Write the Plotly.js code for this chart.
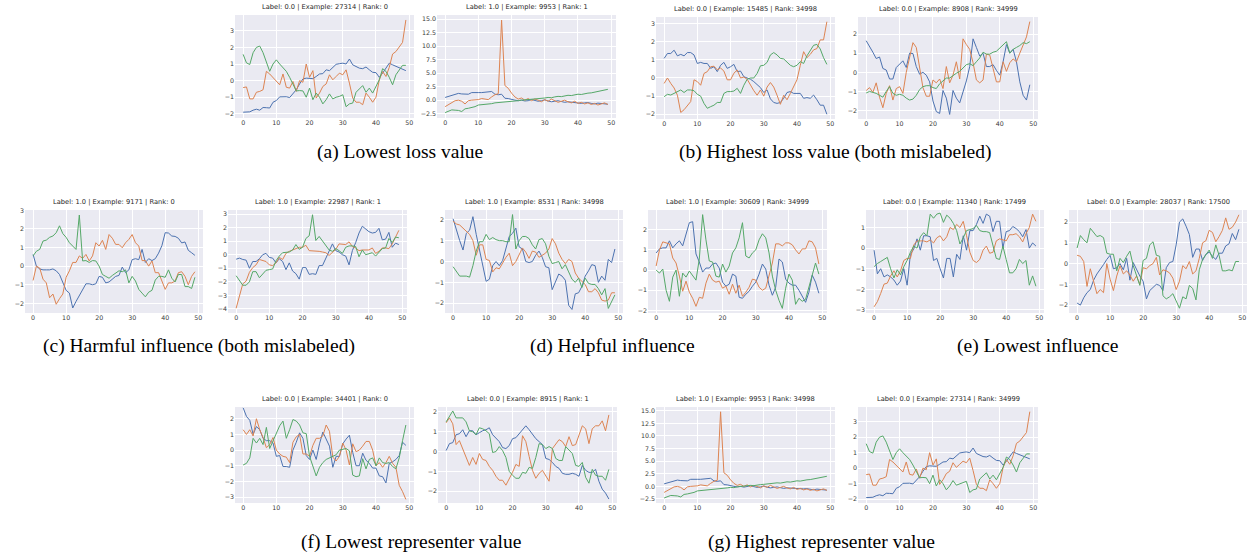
<!DOCTYPE html>
<html><head><meta charset="utf-8">
<script src="https://cdn.plot.ly/plotly-3.0.1.min.js"></script>
<style>html,body{margin:0;padding:0;background:#fff}#chart{width:1248px;height:560px}</style>
</head><body><div id="chart"></div>
<script>
// ---------- data (time steps 0..49) ----------
const steps = [0,1,2,3,4,5,6,7,8,9,10,11,12,13,14,15,16,17,18,19,20,21,22,23,24,25,26,27,28,29,30,31,32,33,34,35,36,37,38,39,40,41,42,43,44,45,46,47,48,49];
const xTicks = [0,10,20,30,40,50];

// Example 27314 (label 0.0)
const ex27314Blue = [-1.9,-1.9,-1.88,-1.78,-1.72,-1.78,-1.62,-1.63,-1.65,-1.3,-1.2,-0.98,-0.97,-0.97,-1.02,-0.8,-0.55,-0.2,0.1,0.15,0.15,0.12,0.25,0.4,0.42,0.65,0.6,0.8,0.98,1.02,1.05,1.0,1.3,0.95,0.85,0.75,0.72,0.82,0.65,0.5,0.48,0.2,0.45,0.75,1.05,0.95,0.85,0.75,0.65,0.6];
const ex27314Orange = [-0.42,-0.38,-1.1,-1.1,-0.7,-0.65,-0.55,0.56,0.4,0.2,0.0,-0.25,0.4,-0.4,-0.45,-0.05,-0.65,0.0,-0.1,1.0,0.2,0.6,-1.05,-0.75,-0.35,-0.2,0.35,0.05,0.25,0.45,0.35,0.65,-0.15,-1.05,-1.3,-1.3,-1.45,-0.75,-1.0,-1.3,-1.0,0.05,0.55,0.25,0.8,1.6,1.75,2.0,2.3,3.65];
const ex27314Green = [1.58,1.07,0.97,1.68,2.0,2.08,1.68,1.07,0.56,1.0,1.25,1.0,0.75,0.56,0.2,-0.25,-0.62,-0.6,-0.62,-1.0,-0.45,-1.15,-0.75,-1.0,-1.4,-1.15,-0.8,-1.1,-1.0,-0.95,-0.85,-1.57,-1.4,-1.35,-0.7,-0.5,-0.3,-0.7,-0.45,-0.75,-0.35,0.05,0.72,0.56,0.2,-0.25,0.35,0.66,0.92,0.92];

// Example 9953 (label 1.0)
const ex9953Blue = [0.5,0.7,0.85,1.05,1.25,1.15,1.1,1.1,1.4,1.35,1.4,1.4,1.45,1.5,1.6,1.1,1.0,1.1,0.35,0.3,0.1,0.0,-0.1,0.0,-0.15,-0.1,0.1,-0.05,-0.2,-0.1,0.05,-0.15,-0.3,-0.2,-0.1,-0.25,-0.4,-0.3,-0.35,-0.5,-0.45,-0.6,-0.5,-0.45,-0.6,-0.7,-0.55,-0.65,-0.7,-0.75];
const ex9953Orange = [-1.2,-0.85,-0.5,-0.1,0.0,-0.2,-0.7,-0.1,0.0,0.0,0.1,0.3,0.15,0.1,0.6,1.0,1.2,14.8,2.7,2.2,1.3,0.6,0.2,0.4,0.0,0.3,-0.1,0.2,0.0,-0.3,0.1,-0.2,0.2,-0.1,-0.4,-0.2,0.0,-0.3,-0.5,-0.2,-0.6,-0.4,-0.7,-0.5,-0.8,-0.6,-0.9,-0.7,-0.5,-0.8];
const ex9953Green = [-2.3,-2.1,-1.8,-1.85,-1.9,-2.1,-1.6,-1.5,-1.4,-1.2,-0.9,-0.85,-0.8,-0.7,-0.65,-0.5,-0.45,-0.4,-0.35,-0.3,-0.2,-0.25,-0.1,0.0,0.05,0.1,0.2,0.15,0.3,0.35,0.4,0.5,0.45,0.6,0.7,0.65,0.8,0.9,0.85,1.0,1.1,1.05,1.2,1.3,1.35,1.5,1.55,1.7,1.85,2.0];

// Example 15485 (label 0.0)
const ex15485Blue = [1.08,1.35,1.35,1.53,1.22,1.3,1.22,1.4,1.4,1.27,0.8,0.86,0.8,0.8,0.53,0.62,0.35,0.7,0.86,0.53,0.62,0.75,0.35,0.38,0.07,0.0,-0.07,-0.2,-0.35,-0.53,-0.8,-0.66,-1.15,-1.35,-1.4,-1.35,-1.12,-0.8,-0.75,-0.85,-0.85,-0.85,-1.12,-1.08,-1.12,-0.94,-1.2,-1.5,-1.5,-2.0];
const ex15485Orange = [-0.3,0.0,-0.3,-0.55,-0.95,-1.9,-1.75,-1.55,-1.3,-0.1,-0.2,-0.4,0.25,0.35,0.62,0.65,0.45,0.55,0.38,-0.1,-0.1,0.26,0.44,0.0,0.05,-0.07,-0.4,-0.7,-0.95,-0.66,-1.0,-0.5,-0.25,-0.5,-0.95,-1.45,-0.95,-1.2,-0.85,-0.5,-0.1,0.7,1.45,1.12,1.3,1.55,1.62,2.1,2.1,3.1];
const ex15485Green = [-1.03,-0.9,-0.94,-0.85,-0.75,-0.66,-0.8,-0.66,-0.66,-0.7,-0.9,-1.0,-1.4,-1.67,-1.58,-1.5,-1.35,-1.35,-0.85,-0.75,-0.75,-0.72,-0.57,-0.85,-0.4,-0.07,0.0,0.0,0.25,0.67,0.7,0.86,1.27,1.4,1.27,1.08,1.05,0.86,0.7,0.62,0.7,0.9,0.8,1.22,1.48,1.8,1.85,1.6,1.12,0.75];

// Example 8908 (label 0.0)
const ex8908Blue = [1.65,1.38,1.05,0.72,0.8,0.2,0.12,-0.35,-0.35,0.25,0.45,0.6,0.25,1.0,0.98,0.3,-0.1,0.0,-0.15,-0.5,-1.5,-2.05,-2.15,-0.95,-1.35,-2.2,-0.95,-1.35,-1.6,-1.0,-0.45,0.3,1.75,1.3,0.85,1.0,0.3,0.3,0.4,0.1,-0.15,0.55,1.45,1.0,1.2,0.55,-0.5,-1.2,-1.45,-0.65];
const ex8908Orange = [-0.95,-0.8,-1.05,-0.55,-1.3,-1.85,-1.1,-0.7,-1.45,-0.85,-0.75,-1.1,0.0,0.8,1.55,1.3,0.3,-0.8,-1.25,-1.25,-0.4,-0.55,-0.35,-0.85,0.3,-0.55,-0.15,0.55,-0.35,1.75,1.45,1.2,0.5,-0.4,-0.55,-0.4,0.95,0.9,0.2,-0.5,-0.5,0.55,0.05,0.5,0.7,0.55,1.0,1.4,1.85,2.65];
const ex8908Green = [-1.08,-1.0,-1.05,-1.1,-1.2,-1.3,-1.0,-0.75,-1.1,-1.2,-1.15,-1.2,-1.35,-1.45,-1.4,-1.2,-0.9,-0.75,-0.7,-0.7,-0.8,-0.85,-0.6,-0.45,-0.3,-0.3,-0.15,-0.05,0.05,0.2,0.4,0.45,0.35,0.55,0.75,1.05,0.95,0.95,1.05,1.1,1.25,1.45,1.6,1.0,1.2,1.3,1.4,1.55,1.5,1.6];

// Example 9171 (label 1.0)
const ex9171Blue = [0.63,0.0,-0.15,-0.2,-0.2,-0.2,-0.15,-0.25,-0.45,-0.85,-1.3,-1.45,-2.25,-1.9,-1.6,-1.3,-0.95,-0.95,-1.0,-0.95,-0.55,-0.6,-0.9,-0.85,-0.7,-0.55,-0.5,-0.05,-0.35,-0.2,0.35,0.4,0.35,0.9,0.2,0.4,0.3,0.4,0.7,1.1,1.8,1.78,1.62,1.6,1.5,1.25,1.3,0.85,0.72,0.58];
const ex9171Orange = [-0.77,0.0,-0.1,-0.7,-0.9,-1.7,-1.5,-2.05,-1.75,-1.5,-0.6,-0.25,0.2,0.2,0.55,0.42,0.63,0.28,0.55,1.26,1.08,1.39,0.9,1.7,1.5,1.17,1.17,0.99,1.26,1.44,1.7,1.26,1.08,0.3,0.3,0.0,0.28,-0.35,-0.35,-0.8,-1.25,-0.9,-0.9,-0.8,-0.35,-0.3,-0.55,-1.0,-0.55,-0.3];
const ex9171Green = [0.55,0.8,0.9,1.35,1.4,1.55,1.62,1.8,2.17,1.75,1.55,1.26,1.08,0.9,2.75,0.28,0.3,0.2,0.3,0.28,0.0,-0.45,-0.55,-0.65,-0.5,-0.35,-0.25,-0.3,-0.2,-0.9,-0.55,-0.8,-1.25,-1.45,-1.65,-1.4,-1.3,-0.75,-0.55,-0.55,-0.6,-0.2,-0.65,-0.85,-0.45,-0.45,-1.1,-1.1,-1.2,-0.6];

// Example 22987 (label 1.0)
const ex22987Blue = [-0.33,-0.25,-0.35,-0.4,-1.0,-0.5,-0.5,-0.3,0.0,0.1,-0.2,-0.25,-0.6,-0.3,-0.5,-1.1,-0.6,-1.2,-1.4,-1.8,-0.95,-0.95,-1.45,-1.4,-1.45,-0.8,-0.8,-0.3,0.3,0.8,0.3,0.2,0.0,-0.1,-0.75,0.3,0.9,1.6,2.1,1.9,1.7,1.6,1.65,1.95,1.1,1.15,1.65,0.55,0.85,0.75];
const ex22987Orange = [-3.95,-3.0,-2.15,-1.95,-1.3,-0.95,-0.75,-0.35,-0.45,-0.5,-0.75,-0.8,-0.6,-0.2,-0.35,0.1,0.25,0.35,0.5,0.55,0.55,0.7,0.3,0.3,0.25,0.25,0.2,0.15,-0.05,0.2,0.4,0.8,0.75,0.75,0.95,0.6,0.5,0.3,0.35,0.35,0.35,0.5,0.1,0.25,0.5,0.5,0.45,0.8,1.3,1.8];
const ex22987Green = [-1.55,-1.9,-2.25,-2.25,-2.0,-1.25,-1.25,-1.7,-1.45,-1.15,-1.1,-1.05,-0.45,-0.1,0.15,0.15,0.2,0.35,0.75,0.4,0.55,1.2,1.4,2.95,1.05,1.35,1.0,0.65,0.35,0.25,0.45,0.3,0.1,0.55,0.65,0.65,0.6,-0.15,0.35,0.0,0.05,0.15,-0.1,0.15,0.45,0.5,1.2,0.9,1.3,1.25];

// Example 8531 (label 1.0)
const ex8531Blue = [2.05,1.5,1.0,0.55,1.35,1.5,2.15,1.3,0.5,-0.2,-0.95,-0.85,-0.2,0.0,-0.2,0.05,0.7,1.2,1.35,1.6,0.7,0.6,0.0,-0.05,0.0,0.3,0.5,0.2,-0.25,-0.3,-1.35,-0.95,-0.6,-0.7,-0.9,-2.1,-2.3,-1.55,-1.5,-1.2,-0.7,-0.45,-0.15,-0.2,-1.0,-0.7,-0.9,0.1,-0.05,0.6];
const ex8531Orange = [1.93,1.8,1.75,1.6,1.45,1.3,1.0,0.3,0.8,0.8,0.1,0.05,-0.5,-0.3,-0.35,-0.05,0.2,0.4,-0.2,0.0,0.3,0.65,0.45,0.15,0.5,0.45,0.2,0.3,0.4,0.6,1.1,0.85,0.4,0.1,-0.1,0.1,0.0,-0.55,-0.8,-0.95,-1.1,-1.45,-1.45,-1.3,-1.5,-1.85,-1.9,-1.85,-1.5,-1.5];
const ex8531Green = [-0.25,-0.5,-0.7,-0.7,-0.7,-0.75,-0.2,0.5,0.95,0.95,1.3,1.05,1.15,1.05,1.0,1.0,0.95,0.95,2.25,0.6,1.0,1.2,1.2,1.1,0.8,0.6,1.05,1.1,0.85,0.25,-0.1,-0.05,0.0,-0.35,-0.15,-0.5,-0.85,-1.0,-0.8,-1.25,-0.8,-1.05,-1.1,-1.1,-1.3,-1.6,-1.3,-2.25,-1.95,-1.6];

// Example 30609 (label 1.0)
const ex30609Blue = [0.85,1.05,1.1,1.1,1.45,1.1,1.3,1.45,1.2,1.85,2.35,2.4,0.8,0.4,-0.1,0.1,0.1,0.3,0.35,0.1,-0.6,-0.8,-0.7,-0.2,-0.3,-1.35,-1.4,-1.2,-1.05,-0.8,-0.6,-0.2,0.3,0.05,-0.75,-1.25,-0.85,0.55,0.4,-0.45,-0.65,-0.75,-0.75,-1.0,-1.3,-1.6,-1.1,-0.25,-0.6,-1.15];
const ex30609Orange = [0.2,1.0,1.4,1.35,1.3,0.6,0.35,-0.3,-1.05,-0.55,-1.1,-1.4,-1.8,-1.35,-1.4,-0.65,-0.2,-0.5,-0.6,-0.55,-0.9,-0.8,-1.2,-0.7,-1.15,-0.75,-1.3,-1.1,-0.85,-0.45,-0.5,-0.85,-1.0,-0.9,-0.3,0.35,1.3,1.3,1.2,1.35,1.35,1.25,1.0,0.8,1.05,1.05,1.45,1.4,1.1,0.3];
const ex30609Green = [0.0,-0.15,0.05,-1.0,-1.55,-0.35,0.0,-1.3,-0.15,-0.35,-0.05,-0.3,-0.5,0.55,2.75,1.5,0.45,0.4,-0.3,-0.35,0.3,-0.1,0.2,0.85,1.1,1.6,2.35,0.7,0.6,0.85,1.0,1.5,1.8,1.6,0.85,-0.3,-1.0,-1.5,-1.9,-0.9,-0.2,-0.5,-1.7,-1.4,-1.55,-1.45,-0.85,-0.35,0.35,-0.2];

// Example 11340 (label 0.0)
const ex11340Blue = [-0.1,-1.25,-1.0,-1.4,-1.3,-1.4,-1.55,-1.8,-1.6,-1.0,-1.8,-0.3,-0.05,0.45,-0.1,0.6,0.6,0.55,-0.6,-0.5,-1.0,-1.45,-0.5,-0.5,-1.4,-0.3,-0.55,0.6,-0.1,0.85,0.85,1.15,1.55,1.2,1.65,1.55,0.8,1.3,1.3,0.0,0.8,0.85,1.05,0.95,0.8,0.55,0.9,0.0,0.25,0.1];
const ex11340Orange = [-2.85,-2.6,-2.2,-1.75,-1.7,-1.35,-1.1,-1.4,-1.1,-0.6,-0.5,-0.5,0.15,0.35,0.35,0.35,0.3,0.4,0.25,0.5,0.6,0.35,0.55,1.0,0.9,1.15,1.0,1.3,0.6,-0.2,-0.6,-0.7,-0.55,-0.1,0.1,-0.25,-0.2,0.35,0.45,0.4,0.35,0.65,0.65,0.7,0.55,0.3,0.7,1.0,1.65,1.3];
const ex11340Green = [-0.9,-0.75,-0.65,-0.55,-0.45,-1.0,-1.45,-1.05,-1.3,-0.9,-0.6,-0.2,0.1,0.0,0.55,0.75,0.6,1.65,1.45,1.65,1.7,1.25,1.6,1.45,1.2,0.85,0.2,0.5,0.85,0.9,0.95,1.1,0.85,0.8,0.8,0.75,0.1,-0.5,-0.55,0.1,-0.55,-1.2,-1.2,-1.0,-0.55,-0.75,-0.6,-1.8,-1.35,-1.85];

// Example 28037 (label 0.0)
const ex28037Blue = [-1.9,-2.0,-1.65,-1.4,-1.25,-0.8,-0.5,-0.3,-0.05,0.2,0.4,-0.25,-0.2,0.0,-0.3,0.25,-0.8,0.05,-0.3,-0.6,-0.85,-1.7,-1.3,-1.15,-1.0,-1.05,-1.3,-0.2,0.05,0.1,0.9,2.0,2.15,1.8,1.4,0.3,0.7,0.7,0.15,0.45,0.55,0.35,0.2,0.5,0.5,0.85,0.95,1.45,1.15,1.65];
const ex28037Orange = [0.4,0.35,0.1,-1.1,-0.25,-0.9,-1.45,-1.25,-1.4,0.0,-0.75,-1.3,-0.6,-0.1,-0.5,-0.35,-0.55,-0.85,-0.6,-1.0,-0.2,-0.25,-0.1,0.0,0.3,-0.55,-0.3,-0.35,-0.45,-0.7,-1.25,-0.85,-0.1,-0.25,0.1,-0.5,-0.35,0.25,1.0,1.1,1.6,1.5,1.05,1.3,1.6,2.2,1.65,1.75,2.0,2.35];
const ex28037Green = [0.75,1.35,1.15,1.0,1.7,1.5,1.3,1.35,1.25,0.5,0.45,0.45,-0.35,0.25,0.05,0.35,0.6,-0.1,-0.6,-1.05,0.15,0.25,0.9,1.05,0.4,0.35,-1.55,-1.7,-1.6,-1.45,-1.8,-2.15,-1.6,-1.7,-1.05,-1.2,-1.75,-0.3,0.2,0.45,0.65,0.25,0.9,0.4,-0.35,-0.35,-0.3,-0.35,0.1,0.1];

// Example 34401 (label 0.0)
const ex34401Blue = [2.7,2.15,1.9,1.0,1.5,1.3,0.75,0.6,0.6,0.45,-0.4,-0.35,-1.05,-1.05,-1.1,0.0,0.5,1.1,0.75,-0.35,-0.6,0.0,-0.6,0.4,1.15,0.7,0.25,-1.1,-0.4,-0.4,0.4,0.7,0.95,-0.15,-1.0,-1.0,-0.2,-0.65,-0.85,-1.15,-1.15,-1.65,-1.7,-2.1,-0.85,-0.75,-0.6,-0.35,0.5,0.3];
const ex34401Orange = [1.3,1.0,1.3,0.9,2.0,1.3,0.8,0.15,0.35,0.8,0.0,-0.25,-0.4,-0.45,-0.8,0.5,0.85,1.0,-0.25,-0.25,-0.4,0.3,0.75,0.75,0.9,1.6,1.2,-0.45,-0.7,-0.4,0.45,0.0,-0.95,0.4,-0.1,0.0,0.25,0.55,0.55,0.0,-1.0,-0.8,-1.1,-0.8,-0.4,-0.85,-1.1,-2.25,-2.65,-3.15];
const ex34401Green = [-0.95,-0.85,-0.5,0.75,0.45,0.75,0.35,1.45,0.1,0.55,1.05,1.55,1.85,0.75,1.3,1.95,1.85,1.6,1.1,1.05,-0.4,-1.0,-1.65,-1.1,-0.8,-0.6,-0.5,-0.4,-0.3,0.0,0.05,0.1,-0.05,-1.6,-1.7,-1.65,-0.55,-1.2,-0.6,-0.5,-1.0,-0.5,-0.8,-0.85,-0.8,-1.05,-1.2,-0.5,0.6,1.6];

// Example 8915 (label 0.0)
const ex8915Blue = [0.05,0.4,0.45,0.85,0.9,1.1,0.75,1.05,1.05,0.85,0.95,1.05,1.1,1.2,0.85,0.65,0.5,0.2,0.15,0.3,0.65,0.7,0.9,1.05,1.3,1.1,0.85,0.65,0.5,0.35,-0.35,-0.4,-0.55,-0.75,-0.85,-1.1,-1.15,-1.15,-1.1,-1.15,-1.25,-0.7,-0.95,-1.05,-1.05,-0.9,-1.5,-1.9,-2.1,-2.4];
const ex8915Orange = [1.45,1.7,1.4,0.35,0.55,0.1,-0.3,-0.7,-0.3,-0.65,-0.1,-0.4,-0.45,-0.75,-0.95,-1.25,-1.45,-1.45,-1.7,-1.4,-1.05,-0.65,-0.75,0.8,0.5,-0.25,-0.95,-1.35,-1.1,-0.95,-1.2,-1.5,0.15,0.4,0.6,0.5,0.25,0.75,0.3,0.35,0.8,1.3,1.15,0.4,1.15,1.3,1.3,1.55,1.05,1.85];
const ex8915Green = [1.5,1.8,2.05,1.7,1.7,1.7,1.5,1.05,1.0,0.85,1.2,1.15,1.05,0.9,-0.05,0.0,0.25,0.05,-0.3,-1.0,-1.2,-1.35,-1.35,-1.05,-1.1,-0.8,-0.85,-0.3,0.4,0.35,0.15,0.25,0.15,-0.35,-0.45,-0.45,0.25,0.1,-0.1,-0.7,-0.75,-0.55,-1.3,-1.6,-0.9,-1.2,-1.25,-1.25,-1.45,-0.9];

// ---------- panels ----------
const colors = ['#4C72B0', '#DD8452', '#55A868'];
const panels = [
  {title:'Label: 0.0 | Example: 27314 | Rank: 0',     s:[ex27314Blue,ex27314Orange,ex27314Green], yr:[-2.25,3.95], dt:1,   fmt:'', box:[235,414,15,118]},
  {title:'Label: 1.0 | Example: 9953 | Rank: 1',      s:[ex9953Blue,ex9953Orange,ex9953Green],    yr:[-3.3,15.75], dt:2.5, fmt:'.1f', box:[437,616,15,118]},
  {title:'Label: 0.0 | Example: 15485 | Rank: 34998', s:[ex15485Blue,ex15485Orange,ex15485Green], yr:[-2.26,3.36], dt:1,   fmt:'', box:[656,835,17,119]},
  {title:'Label: 0.0 | Example: 8908 | Rank: 34999',  s:[ex8908Blue,ex8908Orange,ex8908Green],    yr:[-2.44,2.89], dt:1,   fmt:'', box:[858,1038,17,119]},
  {title:'Label: 1.0 | Example: 9171 | Rank: 0',      s:[ex9171Blue,ex9171Orange,ex9171Green],    yr:[-2.52,3.02], dt:1,   fmt:'', box:[25,203,210,313]},
  {title:'Label: 1.0 | Example: 22987 | Rank: 1',     s:[ex22987Blue,ex22987Orange,ex22987Green], yr:[-4.3,3.3],   dt:1,   fmt:'', box:[228,407,210,313]},
  {title:'Label: 1.0 | Example: 8531 | Rank: 34998',  s:[ex8531Blue,ex8531Orange,ex8531Green],    yr:[-2.47,2.47], dt:1,   fmt:'', box:[445,623,210,313]},
  {title:'Label: 1.0 | Example: 30609 | Rank: 34999', s:[ex30609Blue,ex30609Orange,ex30609Green], yr:[-2.13,2.98], dt:1,   fmt:'', box:[648,827,210,313]},
  {title:'Label: 0.0 | Example: 11340 | Rank: 17499', s:[ex11340Blue,ex11340Orange,ex11340Green], yr:[-3.15,1.85], dt:1,   fmt:'', box:[866,1044,210,313]},
  {title:'Label: 0.0 | Example: 28037 | Rank: 17500', s:[ex28037Blue,ex28037Orange,ex28037Green], yr:[-2.38,2.58], dt:1,   fmt:'', box:[1069,1247,210,313]},
  {title:'Label: 0.0 | Example: 34401 | Rank: 0',     s:[ex34401Blue,ex34401Orange,ex34401Green], yr:[-3.38,2.75], dt:1,   fmt:'', box:[235,414,407,503]},
  {title:'Label: 0.0 | Example: 8915 | Rank: 1',      s:[ex8915Blue,ex8915Orange,ex8915Green],    yr:[-2.6,2.25],  dt:1,   fmt:'', box:[438,617,407,503]},
  {title:'Label: 1.0 | Example: 9953 | Rank: 34998',  s:[ex9953Blue,ex9953Orange,ex9953Green],    yr:[-3.3,15.75], dt:2.5, fmt:'.1f', box:[656,835,407,503]},
  {title:'Label: 0.0 | Example: 27314 | Rank: 34999', s:[ex27314Blue,ex27314Orange,ex27314Green], yr:[-2.25,3.95], dt:1,   fmt:'', box:[858,1038,407,503]}
];
const captions = [
  {text:'(a) Lowest loss value', x:400, y:152},
  {text:'(b) Highest loss value (both mislabeled)', x:835, y:152},
  {text:'(c) Harmful influence (both mislabeled)', x:199, y:346},
  {text:'(d) Helpful influence', x:612, y:346},
  {text:'(e) Lowest influence', x:1037, y:346},
  {text:'(f) Lowest representer value', x:411, y:542},
  {text:'(g) Highest representer value', x:821, y:542}
];

const W = 1248, H = 560;
const traces = [];
const layout = {
  width: W, height: H,
  margin: {l:0, r:0, t:0, b:0},
  paper_bgcolor: '#ffffff',
  plot_bgcolor: '#EAEAF2',
  showlegend: false,
  annotations: []
};
const tickFont = {family:'DejaVu Sans', size:6.3, color:'#3a3a3a'};

panels.forEach((p, i) => {
  const k = i + 1;
  const xa = 'x' + k, ya = 'y' + k;
  p.s.forEach((vals, j) => {
    traces.push({type:'scatter', mode:'lines', x: steps, y: vals, xaxis: xa, yaxis: ya,
      line:{color: colors[j], width: 1}, hoverinfo:'skip'});
  });
  const [x0, x1, y0, y1] = p.box;
  layout['xaxis' + k] = {
    domain:[x0 / W, x1 / W], anchor: ya, range:[-2.45, 51.45],
    tickmode:'array', tickvals: xTicks, ticktext: xTicks.map(String),
    showgrid:true, gridcolor:'#ffffff', gridwidth:1, zeroline:false, showline:false,
    ticks:'', tickfont: tickFont, fixedrange:true
  };
  layout['yaxis' + k] = {
    domain:[1 - y1 / H, 1 - y0 / H], anchor: xa, range: p.yr,
    tick0: 0, dtick: p.dt, tickformat: p.fmt,
    showgrid:true, gridcolor:'#ffffff', gridwidth:1, zeroline:false, showline:false,
    ticks:'', tickfont: tickFont, fixedrange:true
  };
  layout.annotations.push({
    text: p.title, xref:'paper', yref:'paper', x:(x0 + x1) / 2 / W, y: 1 - (y0 - 2) / H,
    xanchor:'center', yanchor:'bottom', showarrow:false,
    font:{family:'DejaVu Sans', size:6.7, color:'#262626'}
  });
});
captions.forEach(c => {
  layout.annotations.push({
    text: c.text, xref:'paper', yref:'paper', x: c.x / W, y: 1 - c.y / H,
    xanchor:'center', yanchor:'middle', showarrow:false,
    font:{family:'Liberation Serif', size:19.5, color:'#000000'}
  });
});

Plotly.newPlot('chart', traces, layout, {staticPlot:true, displayModeBar:false});
</script>
</body></html>
